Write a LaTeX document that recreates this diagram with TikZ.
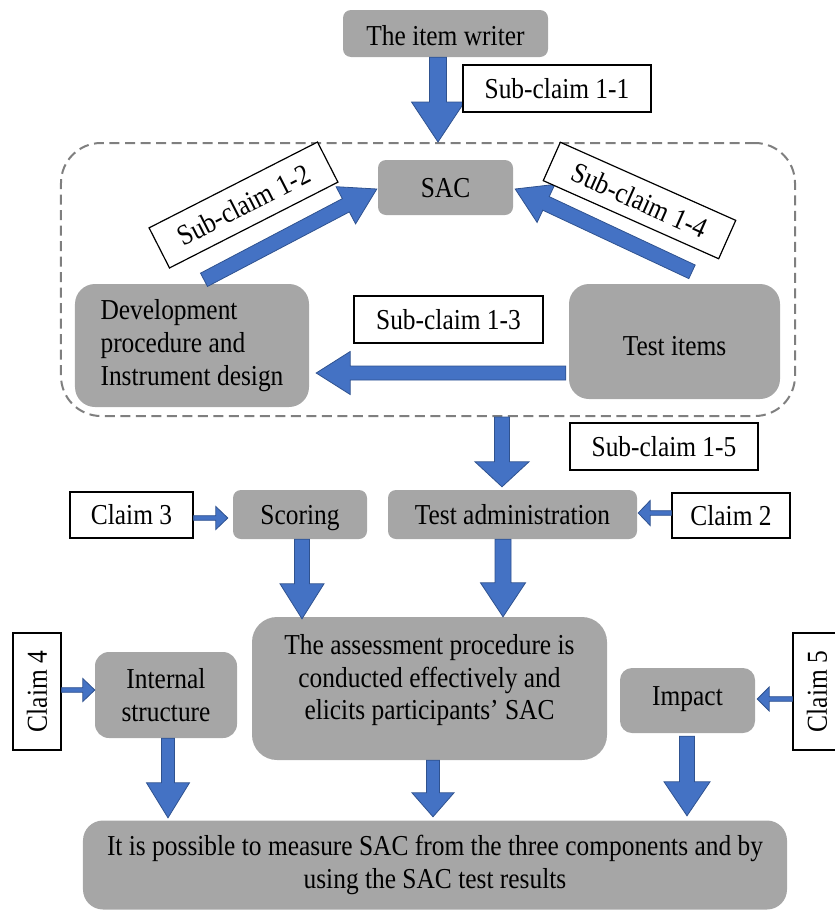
\documentclass[tikz,border=0pt]{standalone}
\usepackage{fontspec}
\setmainfont{Liberation Serif}[FakeStretch=0.88]
\usetikzlibrary{calc}

\definecolor{boxgray}{HTML}{A6A6A6}
\definecolor{arrowblue}{HTML}{4472C4}
\definecolor{arrowedge}{HTML}{2F528F}
\definecolor{framegray}{HTML}{7F7F7F}

% block arrow from #1 to #2: half shaft width #3, half head width #4, head length #5
\newcommand{\blockarrow}[5]{%
  \coordinate (ba-c) at ($(#2)!#5!(#1)$);
  \draw[blockarrow] ($(#1)!#3!90:(#2)$) -- ($(ba-c)!#3!90:(#2)$) -- ($(ba-c)!#4!90:(#2)$)
    -- (#2) -- ($(ba-c)!#4!-90:(#2)$) -- ($(ba-c)!#3!-90:(#2)$) -- ($(#1)!#3!-90:(#2)$) -- cycle;
}

\tikzset{
  every node/.style={font=\fontsize{29}{33}\selectfont, inner sep=0pt},
  oneline/.style={text height=19.5bp, text depth=0bp},
  gbox/.style={fill=boxgray, rounded corners=#1, align=center},
  gbox/.default=8bp,
  cbox/.style={draw=black, line width=1.2bp, fill=white, oneline},
  blockarrow/.style={fill=arrowblue, draw=arrowedge, line width=0.8bp, line join=miter},
  frame/.style={draw=framegray, line width=2bp, dash pattern=on 10bp off 5.5bp, rounded corners=40bp}
}

\begin{document}
\begin{tikzpicture}[x=1bp, y=-1bp]
\useasboundingbox (0,0) rectangle (835,910);

% grouping frame and grey process boxes
\node[frame, minimum width=734bp, minimum height=273bp] (grp) at (428,279.5) {};
\node[gbox, oneline, text height=23bp, minimum width=205bp, minimum height=47bp] (writer) at (445.5,33.5) {The item writer};
\node[gbox, oneline, minimum width=135bp, minimum height=55bp] (sac) at (445.5,187.5) {SAC};
\node[gbox=20bp, align=left, minimum width=234bp, minimum height=123bp] (dev) at (192,345.5)
  {Development\\procedure and\\Instrument design};
\node[gbox=20bp, minimum width=211bp, minimum height=115bp, text height=27bp, text depth=0bp] (items) at (674.5,341.5) {Test items};
\node[gbox, oneline, minimum width=134bp, minimum height=49bp] (scoring) at (300,514.5) {Scoring};
\node[gbox, oneline, minimum width=249bp, minimum height=49bp] (admin) at (512.5,514.5) {Test administration};
\node[gbox=14bp, minimum width=142bp, minimum height=86bp] (intl) at (166,695) {Internal\\structure};
\node[gbox=25bp, minimum width=355bp, minimum height=143bp, text depth=23bp] (assess) at (429.5,688.5)
  {The assessment procedure is\\conducted effectively and\\elicits participants’ SAC};
\node[gbox=12bp, oneline, text depth=10bp, minimum width=135bp, minimum height=65bp] (impact) at (687.5,700.5) {Impact};
\node[gbox=20bp, minimum width=704bp, minimum height=89bp] (final) at (435,865)
  {It is possible to measure SAC from the three components and by\\using the SAC test results};

% claim boxes that feed the process boxes
\node[cbox, minimum width=123bp, minimum height=46bp] (c3) at (131.5,515) {Claim 3};
\node[cbox, minimum width=118bp, minimum height=45bp] (c2) at (731,515.5) {Claim 2};
\node[cbox, minimum width=117bp, minimum height=48bp, rotate=90] (c4) at (37,691.5) {Claim 4};
\node[cbox, minimum width=117bp, minimum height=48bp, rotate=90] (c5) at (817,691.5) {Claim 5};
\node[cbox, minimum width=189bp, minimum height=45bp, rotate=27] (sc12) at (243.5,205) {Sub-claim 1-2};
\node[cbox, minimum width=189bp, minimum height=47bp] (sc13) at (448.5,319.5) {Sub-claim 1-3};
\node[cbox, minimum width=188bp, minimum height=47bp] (sc15) at (664,446.5) {Sub-claim 1-5};

% arrow end points
\coordinate (a1s) at ([xshift=-7.5bp]writer.south);
\coordinate (a1e) at (a1s |- grp.north);
\coordinate (a2s) at ([xshift=-3bp,yshift=-31.5bp]items.west);
\coordinate (a2e) at ([xshift=7bp,yshift=-27.5bp]dev.east);
\coordinate (a3s) at ([xshift=12bp,yshift=4bp]dev.north);
\coordinate (a3e) at ([xshift=-1bp,yshift=-1.5bp]sac.west);
\coordinate (a4s) at ([xshift=17.5bp,yshift=12bp]items.north);
\coordinate (a4e) at ([xshift=2bp,yshift=-1.5bp]sac.east);
\coordinate (a5e) at ([xshift=-10.5bp,yshift=3bp]admin.north);
\coordinate (a5s) at (a5e |- grp.south);
\coordinate (a6s) at ([yshift=-3bp]c3.east);
\coordinate (a6e) at ([xshift=-5bp,yshift=-3.5bp]scoring.west);
\coordinate (a7s) at ([yshift=2.5bp]c2.west);
\coordinate (a7e) at ([xshift=1bp,yshift=1.5bp]admin.east);
\coordinate (a8s) at ([xshift=2bp]scoring.south);
\coordinate (a8e) at ([xshift=-127.5bp,yshift=-2bp]assess.north);
\coordinate (a9s) at ([xshift=-9.5bp]admin.south);
\coordinate (a9e) at ([xshift=73.5bp]assess.north);
\coordinate (a10s) at ([yshift=1.5bp]c4.south);
\coordinate (a10e) at ([yshift=5bp]intl.west);
\coordinate (a11s) at ([yshift=-7.5bp]c5.north);
\coordinate (a11e) at ([xshift=2bp,yshift=1.5bp]impact.east);
\coordinate (a12s) at ([xshift=2bp]intl.south);
\coordinate (a12e) at ([xshift=-267bp,yshift=2.5bp]final.north);
\coordinate (a13s) at ([xshift=3.5bp]assess.south);
\coordinate (a13e) at ([xshift=-2bp,yshift=3.5bp]final.north);
\coordinate (a14s) at ([xshift=-0.5bp,yshift=-3bp]impact.south);
\coordinate (a14e) at ([xshift=252bp,yshift=4.5bp]final.north);

% block arrows
\blockarrow{a1s}{a1e}{8.5bp}{26.5bp}{40bp}
\blockarrow{a2s}{a2e}{7bp}{21.5bp}{34bp}
\blockarrow{a3s}{a3e}{7.5bp}{21bp}{35bp}
\blockarrow{a4s}{a4e}{7.5bp}{21bp}{34bp}
\blockarrow{a5s}{a5e}{7.5bp}{27bp}{25bp}
\blockarrow{a6s}{a6e}{2.3bp}{11.5bp}{12bp}
\blockarrow{a7s}{a7e}{2.3bp}{12.5bp}{12bp}
\blockarrow{a8s}{a8e}{7.5bp}{22bp}{35bp}
\blockarrow{a9s}{a9e}{8bp}{22.5bp}{34bp}
\blockarrow{a10s}{a10e}{2.3bp}{11.5bp}{12bp}
\blockarrow{a11s}{a11e}{2.3bp}{12bp}{12bp}
\blockarrow{a12s}{a12e}{6.5bp}{21.5bp}{35bp}
\blockarrow{a13s}{a13e}{6.5bp}{21bp}{24bp}
\blockarrow{a14s}{a14e}{7.5bp}{23bp}{34bp}

% labels lying over arrow heads
\node[cbox, minimum width=188bp, minimum height=47bp] (sc11) at (557,88.5) {Sub-claim 1-1};
\node[cbox, minimum width=192bp, minimum height=42bp, rotate=-24] (sc14) at (639.5,200.5) {Sub-claim 1-4};
\end{tikzpicture}
\end{document}
